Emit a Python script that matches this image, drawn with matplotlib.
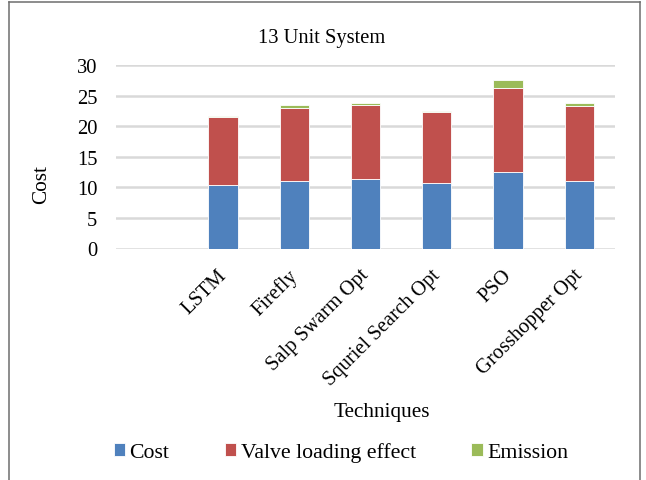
import matplotlib
matplotlib.use("Agg")
import matplotlib.pyplot as plt
from matplotlib.lines import Line2D
from matplotlib.transforms import ScaledTranslation
import numpy as np

plt.rcParams['font.family'] = ['Liberation Serif', 'DejaVu Serif']

techniques = ['', 'LSTM', 'Firefly', 'Salp Swarm Opt', 'Squriel Search Opt',
              'PSO', 'Grosshopper Opt']
cost = [0, 10.4, 11.0, 11.4, 10.65, 12.6, 11.1]
valve_loading = [0, 11.2, 12.05, 12.15, 11.75, 13.7, 12.3]
emission = [0, 0.15, 0.4, 0.35, 0.15, 1.3, 0.5]
y_ticks = [0, 5, 10, 15, 20, 25, 30]

blue = '#4F81BD'
red = '#C0504D'
green = '#9BBB59'
grid_col = '#D9D9D9'

W, H = 646, 481
fig = plt.figure(figsize=(W / 100, H / 100), dpi=100)
ax = fig.add_axes([116 / W, 1 - 249.5 / H, (615 - 116) / W, (249.5 - 66.3) / H])

x = np.arange(len(techniques))
bw = 0.41
cost_a = np.array(cost)
valve_a = np.array(valve_loading)
emis_a = np.array(emission)
edge = dict(edgecolor='white', linewidth=0.6)
b1 = ax.bar(x, cost_a, bw, color=blue, label='Cost', zorder=3, **edge)
b2 = ax.bar(x, valve_a, bw, bottom=cost_a, color=red,
            label='Valve loading effect', zorder=3, **edge)
b3 = ax.bar(x, emis_a, bw, bottom=cost_a + valve_a, color=green,
            label='Emission', zorder=3, **edge)

ax.set_xlim(-0.5, len(techniques) - 0.5)
ax.set_ylim(0, 30)
ax.set_yticks(y_ticks)
ax.yaxis.grid(True, color=grid_col, linewidth=1.8, zorder=0)
ax.set_axisbelow(True)
for s in ax.spines.values():
    s.set_visible(False)
ax.tick_params(axis='both', length=0, labelsize=14.8)
ax.tick_params(axis='y', pad=13.5)
ax.set_xticks(x)
ax.set_xticklabels(techniques, rotation=45, ha='right', rotation_mode='anchor')
ax.tick_params(axis='x', pad=12)
shift = ScaledTranslation(-6 / 100, 0, fig.dpi_scale_trans)
for lbl in ax.get_xticklabels():
    lbl.set_transform(lbl.get_transform() + shift)

fig.text(322 / W, 1 - 38 / H, '13 Unit System', ha='center', va='center', fontsize=14.8)
fig.text(42 / W, 1 - 185 / H, 'Cost', ha='center', va='center', rotation=90, fontsize=15.3)
fig.text(382 / W, 1 - 412 / H, 'Techniques', ha='center', va='center', fontsize=15.3)

leg = fig.legend(handles=[b1, b2, b3], loc='center', bbox_to_anchor=(341 / W, 1 - 453 / H),
                 ncol=3, frameon=False, fontsize=15.7, handlelength=0.52, handleheight=0.55,
                 handletextpad=0.2, columnspacing=2.55, borderaxespad=0, borderpad=0)

# outer frame of the chart area
fc = '#6E6E6E'
fig.add_artist(Line2D([9 / W, 9 / W], [0, 1 - 3 / H], transform=fig.transFigure, color=fc, lw=1.1))
fig.add_artist(Line2D([640 / W, 640 / W], [0, 1 - 3 / H], transform=fig.transFigure, color=fc, lw=1.1))
fig.add_artist(Line2D([9 / W, 640 / W], [1 - 3 / H, 1 - 3 / H], transform=fig.transFigure, color=fc, lw=1.1))

fig.savefig('out.png', dpi=100)
